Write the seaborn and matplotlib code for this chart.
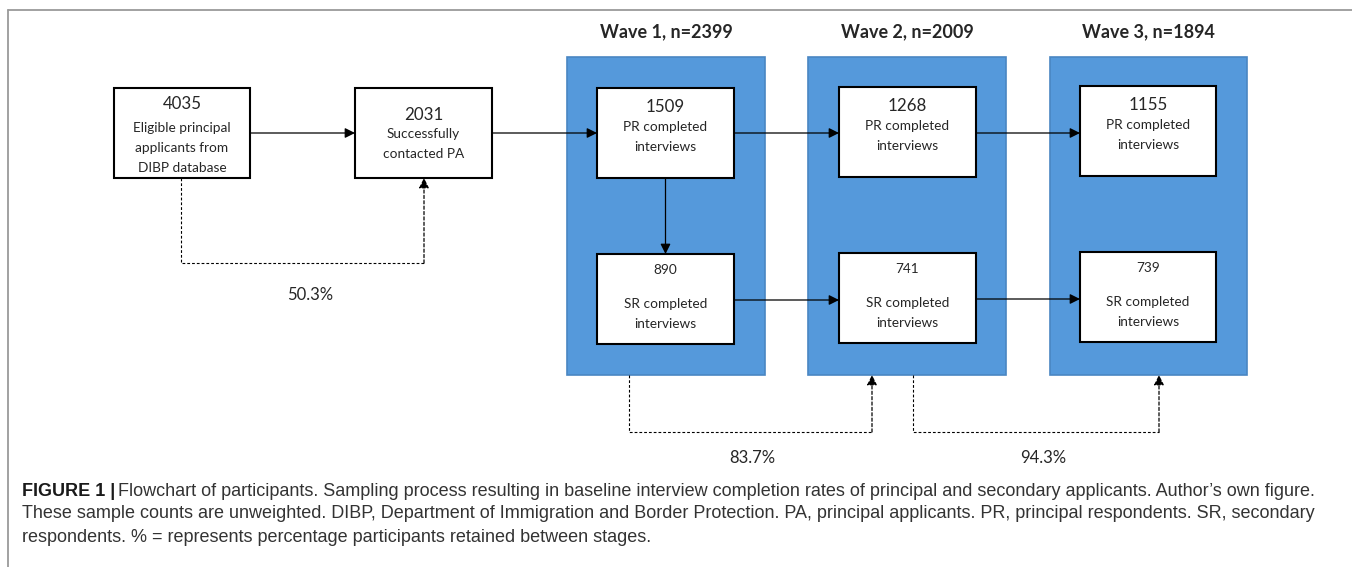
"""
Flowchart of participants (sampling process across three waves)
"""

import matplotlib
matplotlib.use('Agg')
import matplotlib.pyplot as plt
import seaborn as sns
from matplotlib.patches import Rectangle

# ============================
# data
# ============================
start_counts = [4035, 2031]
start_labels = ['Eligible principal\napplicants from\nDIBP database',
                'Successfully\ncontacted PA']
wave_names = ['Wave 1', 'Wave 2', 'Wave 3']
wave_n = [2399, 2009, 1894]
pr_counts = [1509, 1268, 1155]
sr_counts = [890, 741, 739]
pr_label = 'PR completed\ninterviews'
sr_label = 'SR completed\ninterviews'
retention = ['50.3%', '83.7%', '94.3%']

caption_bold = 'FIGURE 1 |'
caption_lines = [
    "Flowchart of participants. Sampling process resulting in baseline interview completion rates of principal and secondary applicants. Author\u2019s own figure.",
    "These sample counts are unweighted. DIBP, Department of Immigration and Border Protection. PA, principal applicants. PR, principal respondents. SR, secondary",
    "respondents. % = represents percentage participants retained between stages.",
]

# ============================
# layout (pixels)
# ============================
W, H = 1352, 567
start_x = [(114, 250), (355, 492)]
start_y = (88, 178)
panel_x = [(567, 765), (808, 1006), (1050, 1247)]
panel_y = (57, 375)
pr_x = [(597, 734), (839, 976), (1080, 1216)]
pr_y = [(88, 178), (87, 177), (86, 176)]
sr_y = [(254, 344), (253, 343), (252, 342)]

BLUE = '#5599db'
BLUE_EDGE = '#4a86c2'
FLOW_FONT = ['Lato', 'DejaVu Sans']
CAP_FONT = ['Liberation Sans', 'DejaVu Sans']
LBL = 9.8      # label size inside boxes
NUM = 12.2     # big counts
LS = 1.85      # line spacing in boxes

sns.set_style('white')
plt.rcParams['font.family'] = FLOW_FONT

fig = plt.figure(figsize=(W / 100, H / 100), dpi=100)
ax = fig.add_axes([0, 0, 1, 1])
ax.set_xlim(0, W)
ax.set_ylim(H, 0)
ax.axis('off')

# outer frame (top and left)
ax.plot([8, W], [10, 10], color='#9a9a9a', lw=1.3)
ax.plot([8, 8], [10, H], color='#9a9a9a', lw=1.3)


def box(x0, x1, y0, y1):
    ax.add_patch(Rectangle((x0, y0), x1 - x0, y1 - y0, facecolor='white',
                           edgecolor='black', lw=1.5, zorder=3))


def arrow(x0, y0, x1, y1, dashed=False):
    ax.annotate('', xy=(x1, y1), xytext=(x0, y0),
                arrowprops=dict(arrowstyle='-|>', color='black', lw=0.9,
                                mutation_scale=15, shrinkA=0, shrinkB=0,
                                linestyle=(0, (2.5, 1.8)) if dashed else '-'),
                zorder=4)


def dashed_link(xa, ya, xb, yb, ylow):
    ax.plot([xa, xa, xb], [ya, ylow, ylow], color='black', lw=0.8,
            linestyle=(0, (2.5, 1.8)), zorder=2)
    arrow(xb, ylow, xb, yb, dashed=True)


# start boxes
for (x0, x1), n, lab in zip(start_x, start_counts, start_labels):
    box(x0, x1, *start_y)
    cx = (x0 + x1) / 2
    if lab.count('\n') == 2:
        ax.text(cx, 104, str(n), ha='center', va='center', fontsize=NUM, zorder=5)
        ax.text(cx, 148, lab, ha='center', va='center', fontsize=LBL,
                linespacing=LS, zorder=5)
    else:
        ax.text(cx, 115, str(n), ha='center', va='center', fontsize=NUM, zorder=5)
        ax.text(cx, 144, lab, ha='center', va='center', fontsize=LBL,
                linespacing=LS, zorder=5)

arrow(start_x[0][1], 133, start_x[1][0], 133)
arrow(start_x[1][1], 133, pr_x[0][0], 133)
dashed_link(181, start_y[1], 424, start_y[1], 263)
ax.text(310, 295, retention[0], ha='center', va='center', fontsize=12)

# waves
for i in range(3):
    px0, px1 = panel_x[i]
    ax.add_patch(Rectangle((px0, panel_y[0]), px1 - px0, panel_y[1] - panel_y[0],
                           facecolor=BLUE, edgecolor=BLUE_EDGE, lw=1.2, zorder=1))
    ax.text((px0 + px1) / 2, 32, f'{wave_names[i]}, n={wave_n[i]}', ha='center',
            va='center', fontsize=13, fontweight='bold')
    bx0, bx1 = pr_x[i]
    cx = (bx0 + bx1) / 2
    box(bx0, bx1, *pr_y[i])
    ax.text(cx, pr_y[i][0] + 19, str(pr_counts[i]), ha='center', va='center',
            fontsize=NUM, zorder=5)
    ax.text(cx, pr_y[i][0] + 49, pr_label, ha='center', va='center',
            fontsize=LBL, linespacing=LS, zorder=5)
    box(bx0, bx1, *sr_y[i])
    ax.text(cx, sr_y[i][0] + 16, str(sr_counts[i]), ha='center', va='center',
            fontsize=LBL, zorder=5)
    ax.text(cx, sr_y[i][0] + 60, sr_label, ha='center', va='center',
            fontsize=LBL, linespacing=LS, zorder=5)

for i in range(2):
    arrow(pr_x[i][1], 133, pr_x[i + 1][0], 133)
    arrow(pr_x[i][1], (sr_y[i][0] + sr_y[i][1]) / 2 + 1,
          pr_x[i + 1][0], (sr_y[i][0] + sr_y[i][1]) / 2 + 1)
arrow((pr_x[0][0] + pr_x[0][1]) / 2, pr_y[0][1], (pr_x[0][0] + pr_x[0][1]) / 2, sr_y[0][0])

dashed_link(629, panel_y[1], 872, panel_y[1], 432)
dashed_link(913, panel_y[1], 1159, panel_y[1], 432)
ax.text(752, 458, retention[1], ha='center', va='center', fontsize=12)
ax.text(1043, 458, retention[2], ha='center', va='center', fontsize=12)

# caption
CAP = 13
tb = ax.text(22, 491, caption_bold, ha='left', va='center', fontsize=CAP,
             fontweight='bold', family=CAP_FONT, color='#1a1a1a')
fig.canvas.draw()
bb = tb.get_window_extent()
x_after = ax.transData.inverted().transform((bb.x1, bb.y0))[0] + 3
ax.text(x_after, 491, caption_lines[0], ha='left', va='center', fontsize=CAP,
        family=CAP_FONT, color='#333333')
ax.text(22, 514, caption_lines[1], ha='left', va='center', fontsize=CAP,
        family=CAP_FONT, color='#333333')
ax.text(22, 537, caption_lines[2], ha='left', va='center', fontsize=CAP,
        family=CAP_FONT, color='#333333')

fig.savefig('out.png', dpi=100)
